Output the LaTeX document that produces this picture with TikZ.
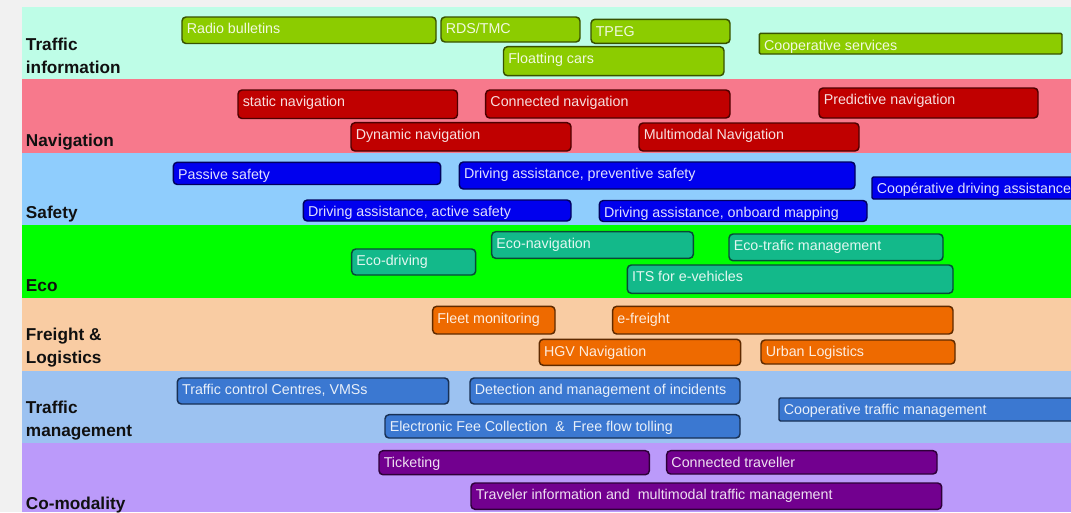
\documentclass[tikz,border=0pt]{standalone}
\usepackage{fontspec}
\setmainfont{Liberation Sans}
\definecolor{bgc}{HTML}{F1F1F1}
\definecolor{bandTI}{HTML}{BEFDE7}
\definecolor{bandNav}{HTML}{F7798C}
\definecolor{bandSaf}{HTML}{8FCDFD}
\definecolor{bandEco}{HTML}{00FF00}
\definecolor{bandFr}{HTML}{F9CCA3}
\definecolor{bandTM}{HTML}{9CC2F1}
\definecolor{bandCo}{HTML}{BB9AFA}
\definecolor{bxG}{HTML}{8CCC00}
\definecolor{bxR}{HTML}{C00000}
\definecolor{bxB}{HTML}{0000EE}
\definecolor{bxT}{HTML}{13B98A}
\definecolor{bxO}{HTML}{EE6A00}
\definecolor{bxM}{HTML}{3B78D1}
\definecolor{bxP}{HTML}{72008F}
\definecolor{labelc}{HTML}{101010}
\newcommand\itbox[8][]{%
  \node[itsbox, fill=#3, draw=#3!40!black, #1,
        minimum width={(#6-#4)*0.75pt}, minimum height={(#7-#5)*0.75pt}]
        (#2) at ({(#4+#6)/2},{(#5+#7)/2}) {};
  \node[itstext, text=white!88!#3] (#2t) at ({#4+4.5},{#5+16.8}) {#8};
}
\begin{document}
\begin{tikzpicture}[x=0.75pt,y=-0.75pt,
  itsbox/.style={rectangle, rounded corners=3pt, line width=1.1pt, inner sep=0pt, outer sep=0pt},
  itstext/.style={anchor=base west, inner sep=0pt, font=\fontsize{10.7}{12}\selectfont},
  bandlabel/.style={anchor=south west, inner sep=0pt, text depth=0pt, align=left,
        font=\bfseries\fontsize{12.9}{17.25}\selectfont, text=labelc},
  squarish/.style={rounded corners=1pt}]
\useasboundingbox (0,0) rectangle (1071,512);
\clip (0,0) rectangle (1071,512);
% background and bands
\fill[bgc] (0,0) rectangle (1071,512);
\fill[bandTI]  (21.7,7.3)   rectangle (1071,79);
\fill[bandNav] (21.7,79)    rectangle (1071,153.3);
\fill[bandSaf] (21.7,153.3) rectangle (1071,225);
\fill[bandEco] (21.7,225)   rectangle (1071,297.7);
\fill[bandFr]  (21.7,297.7) rectangle (1071,370.7);
\fill[bandTM]  (21.7,370.7) rectangle (1071,443.3);
\fill[bandCo]  (21.7,443.3) rectangle (1071,512);
% band labels
\node[bandlabel] (lti) at (25.7,74)    {Traffic\\information};
\node[bandlabel] (lnv) at (25.7,146.8) {Navigation};
\node[bandlabel] (lsf) at (25.7,218.5) {Safety};
\node[bandlabel] (lec) at (25.7,291.5) {Eco};
\node[bandlabel] (lfr) at (25.7,363.3) {Freight \&\\Logistics};
\node[bandlabel] (ltm) at (25.7,436.7) {Traffic\\management};
\node[bandlabel] (lco) at (25.7,510)   {Co-modality};
% Traffic information
\itbox{rb}{bxG}{182}{17}{436}{43.5}{Radio bulletins}
\itbox{rds}{bxG}{441}{17}{580}{42}{RDS/TMC}
\itbox{tpeg}{bxG}{591}{19.3}{730}{43.3}{TPEG}
\itbox{flc}{bxG}{503.5}{46.7}{724}{75.7}{Floatting cars}
\itbox[squarish]{coop}{bxG}{759.3}{33.3}{1062}{54}{Cooperative services}
% Navigation
\itbox{stn}{bxR}{238}{90}{457.5}{118.5}{static navigation}
\itbox{con}{bxR}{485.7}{90}{730}{118}{Connected navigation}
\itbox{prd}{bxR}{819}{88}{1038}{118}{Predictive navigation}
\itbox{dyn}{bxR}{351}{122.7}{571}{151}{Dynamic navigation}
\itbox{mmn}{bxR}{639}{123}{859}{151}{Multimodal Navigation}
% Safety
\itbox{pas}{bxB}{173.3}{162.3}{440.7}{184.5}{Passive safety}
\itbox{dap}{bxB}{459.3}{162}{855}{189}{Driving assistance, preventive safety}
\itbox[squarish]{cda}{bxB}{872}{177}{1095}{199}{Coopérative driving assistance}
\itbox{daa}{bxB}{303.3}{200}{571}{221}{Driving assistance, active safety}
\itbox{dao}{bxB}{599.3}{200.5}{867}{221.5}{Driving assistance, onboard mapping}
% Eco
\itbox{ecd}{bxT}{351.7}{249}{475.7}{275}{Eco-driving}
\itbox{ecn}{bxT}{491.7}{231.7}{693.3}{258.3}{Eco-navigation}
\itbox{ect}{bxT}{729}{234}{943}{260.7}{Eco-trafic management}
\itbox{its}{bxT}{627.3}{265}{953}{293.3}{ITS for e-vehicles}
% Freight & Logistics
\itbox{flm}{bxO}{432.7}{306.3}{555}{334}{Fleet monitoring}
\itbox{efr}{bxO}{612.7}{306.3}{953}{334}{e-freight}
\itbox{hgv}{bxO}{539.3}{339.3}{740.7}{365.3}{HGV Navigation}
\itbox{url}{bxO}{761}{340}{955}{364}{Urban Logistics}
% Traffic management
\itbox{tcc}{bxM}{177.3}{378}{448.7}{404}{Traffic control Centres, VMSs}
\itbox{det}{bxM}{470}{378}{740}{404}{Detection and management of incidents}
\itbox{efc}{bxM}{385}{414.7}{740}{438}{Electronic Fee Collection~~\&~~Free flow tolling}
\itbox[squarish]{ctm}{bxM}{779}{398}{1095}{421}{Cooperative traffic management}
% Co-modality
\itbox{tkt}{bxP}{379}{450.7}{649.3}{474.7}{Ticketing}
\itbox{ctr}{bxP}{666.7}{450.7}{937}{474}{Connected traveller}
\itbox{tvi}{bxP}{471}{483}{941.7}{509.3}{Traveler information and~~multimodal traffic management}
\end{tikzpicture}
\end{document}
